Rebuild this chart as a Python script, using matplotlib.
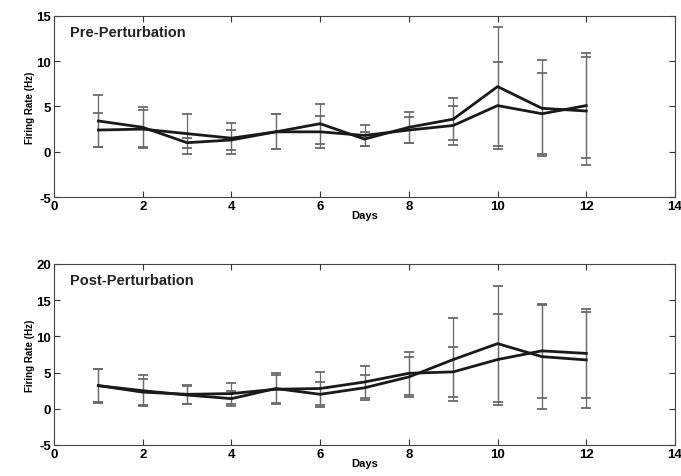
import numpy as np
import matplotlib.pyplot as plt

# days 1..12, two recording groups per panel (mean and +/- error)
days = [1, 2, 3, 4, 5, 6, 7, 8, 9, 10, 11, 12]

pre_a = [3.4, 2.7, 1.0, 1.3, 2.2, 3.1, 1.4, 2.7, 3.6, 7.2, 4.8, 4.5]
pre_a_err = [2.9, 2.2, 0.55, 1.1, 1.95, 2.2, 0.8, 1.7, 2.3, 6.6, 5.3, 6.0]
pre_b = [2.4, 2.5, 2.0, 1.5, 2.2, 2.2, 1.8, 2.4, 2.9, 5.1, 4.2, 5.1]
pre_b_err = [1.9, 2.1, 2.2, 1.7, 1.95, 1.8, 1.2, 1.4, 2.1, 4.8, 4.5, 5.8]

post_a = [3.2, 2.5, 1.9, 1.4, 2.8, 2.0, 2.9, 4.4, 6.8, 9.0, 7.2, 6.75]
post_a_err = [2.35, 2.1, 1.2, 1.0, 2.2, 1.7, 1.7, 2.8, 5.7, 8.0, 7.2, 6.6]
post_b = [3.2, 2.3, 2.0, 2.1, 2.7, 2.8, 3.7, 4.9, 5.1, 6.8, 8.0, 7.65]
post_b_err = [2.3, 1.8, 1.3, 1.5, 1.9, 2.3, 2.2, 2.95, 3.5, 6.3, 6.5, 6.2]

xticks = [0, 2, 4, 6, 8, 10, 12, 14]

plt.rcParams['font.family'] = ['Liberation Sans', 'DejaVu Sans']
plt.rcParams['font.weight'] = 'bold'
plt.rcParams['axes.unicode_minus'] = False

fig = plt.figure(figsize=(6.81, 4.77), dpi=100)
ax1 = fig.add_axes([0.0793, 0.5849, 0.9119, 0.3795])
ax2 = fig.add_axes([0.0793, 0.0650, 0.9119, 0.3795])


def draw_panel(ax, a, a_err, b, b_err, ylim, yticks, label):
    for m, e in [(a, a_err), (b, b_err)]:
        ax.errorbar(days, m, yerr=e, fmt='none', ecolor='#6a6a6a',
                    elinewidth=0.9, capsize=3.5, capthick=1.3, zorder=2)
        ax.plot(days, m, color='#1a1a1a', lw=2.0, zorder=3)
    ax.set_xlim(0, 14)
    ax.set_ylim(*ylim)
    ax.set_xticks(xticks)
    ax.set_yticks(yticks)
    ax.tick_params(direction='in', top=True, right=True, length=4,
                   width=0.8, labelsize=9.5, pad=2, color='#333333')
    for lab in ax.get_xticklabels() + ax.get_yticklabels():
        lab.set_fontweight('bold')
    for s in ax.spines.values():
        s.set_color('#444444')
        s.set_linewidth(0.8)
    ax.set_xlabel('Days', fontsize=8, fontweight='bold', labelpad=-1)
    ax.set_ylabel('Firing Rate (Hz)', fontsize=7, fontweight='bold', labelpad=1)
    ax.text(0.025, 0.91, label, transform=ax.transAxes, fontsize=10.5,
            fontweight='bold', va='center', ha='left', color='#222222')


draw_panel(ax1, pre_a, pre_a_err, pre_b, pre_b_err, (-5, 15),
           [-5, 0, 5, 10, 15], 'Pre-Perturbation')
draw_panel(ax2, post_a, post_a_err, post_b, post_b_err, (-5, 20),
           [-5, 0, 5, 10, 15, 20], 'Post-Perturbation')

fig.savefig('out.png', dpi=100)
